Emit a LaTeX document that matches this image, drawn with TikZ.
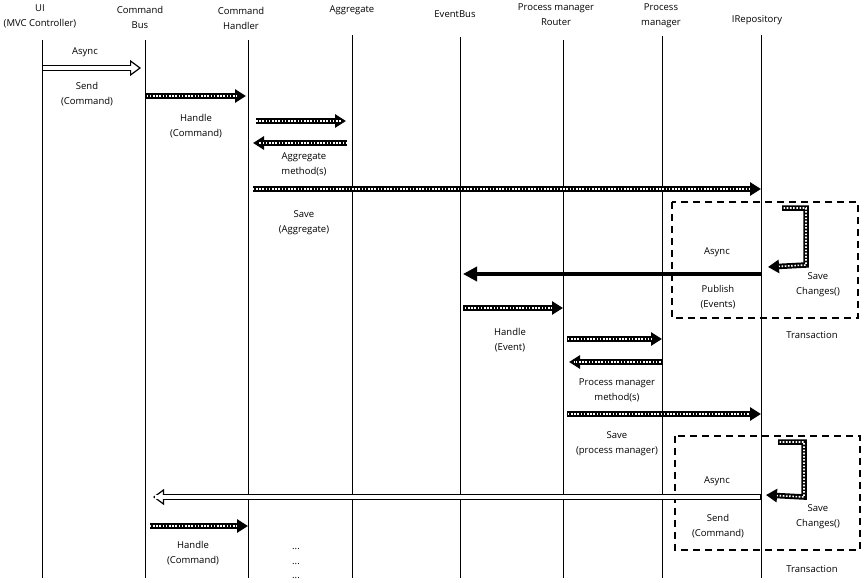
\documentclass[tikz,border=0pt]{standalone}
\usepackage{fontspec}
\setmainfont{Open Sans}
\usetikzlibrary{arrows.meta}

\tikzset{
  lifeline/.style={line width=1pt},
  hollow/.style={line width=6pt, -{Triangle[length=11pt, width=16pt, fill=white, line width=1.2pt]},
    postaction={draw=white, line width=3.8pt, -, shorten >=10pt, shorten <=1.1pt}},
  hatch/.style={line width=5.5pt, -{Triangle[length=11pt, width=13pt]},
    postaction={draw=white, line width=1.6pt, -, dash pattern=on 1.6pt off 1.6pt, shorten >=11pt, shorten <=1.5pt}},
  solidarrow/.style={line width=4.5pt, -{Triangle[length=14pt, width=14pt]}},
  txbox/.style={line width=1.2pt, dash pattern=on 7pt off 5pt},
  lbl/.style={inner sep=1pt}
}

\begin{document}
\begin{tikzpicture}[x=1pt, y=-1pt, every node/.style={font=\fontsize{9.5}{15}\selectfont, align=center}]
  \useasboundingbox (0,0) rectangle (865,583);

  % heads
  \node (ui) at (40,16) {UI\\(MVC Controller)};
  \node (bus) at (140,17) {Command\\Bus};
  \node (handler) at (241,18) {Command\\Handler};
  \node (agg) at (352,10) {Aggregate};
  \node (ebus) at (455,14) {EventBus};
  \node (router) at (556,15) {Process manager\\Router};
  \node (pm) at (661,16) {Process\\manager};
  \node (repo) at (757,20) {IRepository};

  % lifelines
  \foreach \n/\x/\t in {ui/42/40, bus/145/40, handler/248/40, agg/352/35,
                        ebus/460/37, router/563/40, pm/662/36, repo/761/35} {
    \coordinate (\n T) at (\x,\t);
    \coordinate (\n B) at (\x,578);
    \draw[lifeline] (\n T) -- (\n B);
  }

  % transactions
  \draw[txbox] (672,202) rectangle (858,318);
  \draw[txbox] (675,436) rectangle (860,550);

  % command
  \draw[hollow, shorten >=4pt] (uiT |- 0,68) -- (busT |- 0,68);
  \node[lbl] (async1) at (85,52) {Async};
  \node[lbl] (send1) at (87,94) {Send\\(Command)};

  \draw[hatch, shorten >=2pt] (busT |- 0,96) -- (handlerT |- 0,96);
  \node[lbl] (handle1) at (196,126) {Handle\\(Command)};

  \draw[hatch, shorten <=8pt, shorten >=6pt] (handlerT |- 0,121) -- (aggT |- 0,121);
  \draw[hatch, shorten <=5pt, shorten >=5pt] (aggT |- 0,143) -- (handlerT |- 0,143);
  \node[lbl] (aggm) at (304,164.5) {Aggregate\\method(s)};

  \draw[hatch, shorten <=5pt] (handlerT |- 0,189) -- (repoT |- 0,189);
  \node[lbl] (save1) at (304,223) {Save\\(Aggregate)};

  % save changes + publish
  \coordinate (sc1a) at (782,208);
  \coordinate (sc1b) at (768,267);
  \draw[hatch] (sc1a) -| (806,265) -- (sc1b);
  \node[lbl] (chg1) at (818,285) {Save\\Changes()};
  \node[lbl] (tx1) at (812,335) {Transaction};

  \draw[solidarrow, shorten >=3pt] (repoT |- 0,274) -- (ebusT |- 0,274);
  \node[lbl] (async2) at (717,252) {Async};
  \node[lbl] (publish) at (718,297) {Publish\\(Events)};

  % event
  \draw[hatch, shorten <=3pt] (ebusT |- 0,308) -- (routerT |- 0,308);
  \node[lbl] (handle2) at (510,340) {Handle\\(Event)};

  \draw[hatch, shorten <=4pt] (routerT |- 0,339) -- (pmT |- 0,339);
  \draw[hatch, shorten >=6pt] (pmT |- 0,362) -- (routerT |- 0,362);
  \node[lbl] (pmm) at (617,390) {Process manager\\method(s)};

  \draw[hatch, shorten <=4pt] (routerT |- 0,414) -- (repoT |- 0,414);
  \node[lbl] (save2) at (617,444) {Save\\(process manager)};

  % save changes + send
  \coordinate (sc2a) at (778,442);
  \coordinate (sc2b) at (766,495);
  \draw[hatch] (sc2a) -| (804,497) -- (sc2b);
  \node[lbl] (chg2) at (818,517) {Save\\Changes()};
  \node[lbl] (tx2) at (812,569) {Transaction};

  \draw[hollow, shorten >=8pt] (repoT |- 0,497) -- (busT |- 0,497);
  \node[lbl] (async3) at (717,481) {Async};
  \node[lbl] (send2) at (718,526) {Send\\(Command)};

  \draw[hatch, shorten <=5pt] (busT |- 0,526) -- (handlerT |- 0,526);
  \node[lbl] (handle3) at (193,553) {Handle\\(Command)};

  \node (dots1) at (296,549) {...};
  \node (dots2) at (296,564) {...};
  \node (dots3) at (296,578) {...};
\end{tikzpicture}
\end{document}
